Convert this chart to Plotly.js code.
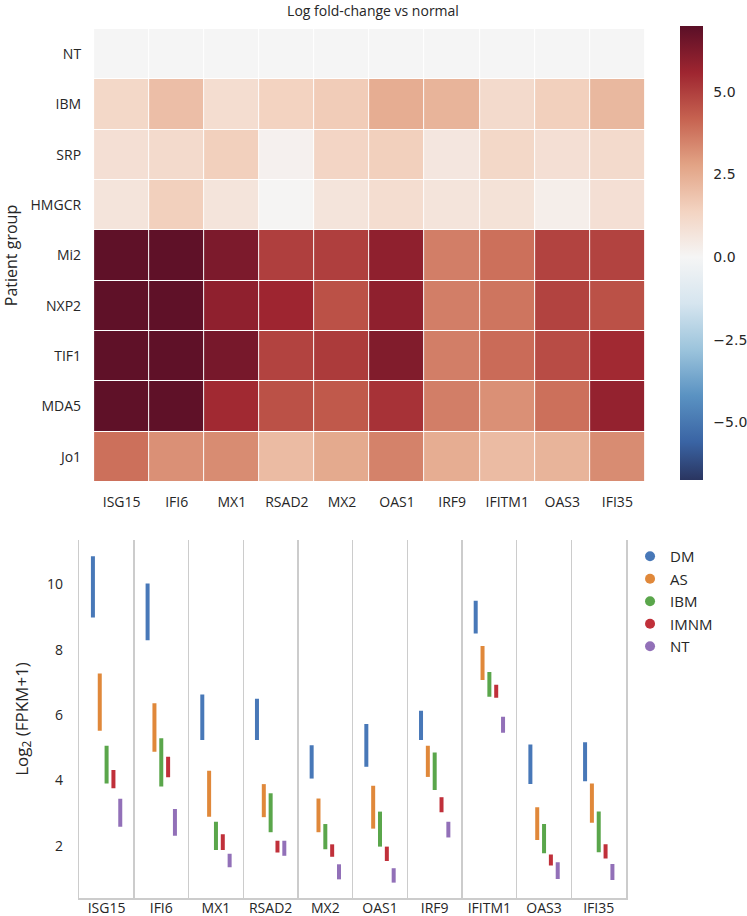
<!DOCTYPE html>
<html>
<head>
<meta charset="utf-8">
<script src="https://cdn.plot.ly/plotly-3.0.1.min.js"></script>
<style>html,body{margin:0;padding:0;background:#fff;}#chart{width:747px;height:916px;}</style>
</head>
<body>
<div id="chart"></div>
<script>
// ---------- Heatmap data ----------
const genes = ["ISG15","IFI6","MX1","RSAD2","MX2","OAS1","IRF9","IFITM1","OAS3","IFI35"];
const patientGroups = ["NT","IBM","SRP","HMGCR","Mi2","NXP2","TIF1","MDA5","Jo1"];
const fc_NT    = [0,0,0,0,0,0,0,0,0,0];
const fc_IBM   = [1.2,2.0,1.0,1.4,1.6,2.5,2.3,1.1,1.5,2.2];
const fc_SRP   = [0.9,1.1,1.5,0.2,1.3,1.5,0.6,1.2,0.9,1.1];
const fc_HMGCR = [0.7,1.5,0.7,0.05,0.7,1.0,0.7,0.8,0.3,0.9];
const fc_Mi2   = [6.9,6.9,6.3,5.0,5.0,5.9,3.6,3.9,4.9,4.9];
const fc_NXP2  = [6.9,6.9,5.9,5.6,4.6,5.9,3.6,3.8,4.9,4.6];
const fc_TIF1  = [6.9,6.9,6.4,4.9,5.1,6.2,3.6,4.0,4.7,5.5];
const fc_MDA5  = [6.9,6.9,5.5,4.6,4.4,5.3,3.6,3.2,3.9,5.8];
const fc_Jo1   = [3.9,3.2,3.3,2.1,2.6,3.5,2.5,2.1,2.3,3.3];
const colorbarTicks = [-5,-2.5,0,2.5,5];
const colorbarTickText = ["\u22125.0","\u22122.5","0.0","2.5","5.0"];

// ---------- Range plot data (Log2 FPKM+1), [low, high] per gene ----------
const groups = ["DM","AS","IBM","IMNM","NT"];
const DM_lo   = [8.98,8.29,5.24,5.24,4.06,4.42,5.24,8.49,3.89,3.98];
const DM_hi   = [10.85,10.02,6.63,6.50,5.08,5.73,6.13,9.49,5.10,5.17];
const AS_lo   = [5.52,4.88,2.89,2.88,2.42,2.53,4.11,7.07,2.18,2.71];
const AS_hi   = [7.27,6.36,4.30,3.89,3.45,3.84,5.06,8.11,3.18,3.91];
const IBM_lo  = [3.91,3.82,1.88,2.42,1.90,1.98,3.71,6.56,1.78,1.81];
const IBM_hi  = [5.06,5.29,2.74,3.61,2.67,3.05,4.86,7.32,2.67,3.05];
const IMNM_lo = [3.76,4.10,1.88,1.80,1.67,1.54,3.03,6.53,1.40,1.62];
const IMNM_hi = [4.32,4.73,2.36,2.16,2.05,1.98,3.49,6.93,1.74,2.05];
const NT_lo   = [2.59,2.31,1.35,1.70,0.98,0.88,2.26,5.46,0.99,0.96];
const NT_hi   = [3.44,3.13,1.76,2.16,1.44,1.32,2.74,5.95,1.50,1.45];
const yTicks = [2,4,6,8,10];

// ---------- Styling ----------
const W = 747, H = 916;
const FONT = "Open Sans, sans-serif";
const TXT = "#262626";
const groupColors = ["#4878b8","#e0883a","#5aa64b","#c0303a","#9270b8"];
// muted diverging scale (blue -> white -> red), stops every 1.4 units from -7 to 7
const divColors = ["#2a3560","#3a64a4","#5a92c2","#9cc4dc","#d6e5ef","#f5f5f5","#f3d3c1","#e2a385","#c66250","#9e2530","#5a0f27"];
const zmin = -6.75, zmax = 7.0;
const colorscale = divColors.map((c, k) => {
  const v = -7 + 1.4 * k;
  let p = (v - zmin) / (zmax - zmin);
  if (p < 0) p = 0;
  return [p, c];
});

const zRows = [fc_NT, fc_IBM, fc_SRP, fc_HMGCR, fc_Mi2, fc_NXP2, fc_TIF1, fc_MDA5, fc_Jo1];

const traces = [];
traces.push({
  type: "heatmap",
  x: genes, y: patientGroups, z: zRows,
  xaxis: "x", yaxis: "y",
  zmin: zmin, zmax: zmax,
  colorscale: colorscale,
  xgap: 1, ygap: 1,
  colorbar: {
    thickness: 23, thicknessmode: "pixels",
    len: 454 / H, lenmode: "fraction",
    x: 686 / W, xanchor: "left", xpad: 0,
    y: 1 - 26 / H, yanchor: "top", ypad: 0,
    outlinewidth: 0,
    tickmode: "array", tickvals: colorbarTicks, ticktext: colorbarTickText,
    ticks: "outside", ticklen: 8, tickcolor: "rgba(0,0,0,0)",
    tickfont: {family: "DejaVu Sans, sans-serif", size: 14, color: TXT}
  },
  showscale: true
});

const los = [DM_lo, AS_lo, IBM_lo, IMNM_lo, NT_lo];
const his = [DM_hi, AS_hi, IBM_hi, IMNM_hi, NT_hi];
const offsets = [-0.25, -0.125, 0, 0.125, 0.25];
groups.forEach((g, gi) => {
  const xs = [], ys = [];
  genes.forEach((gene, i) => {
    xs.push(i + offsets[gi], i + offsets[gi], null);
    ys.push(los[gi][i], his[gi][i], null);
  });
  traces.push({
    type: "scatter", mode: "lines", x: xs, y: ys,
    xaxis: "x2", yaxis: "y2",
    line: {color: groupColors[gi], width: 4},
    showlegend: false, hoverinfo: "skip", name: g
  });
});
groups.forEach((g, gi) => {
  traces.push({
    type: "scatter", mode: "markers", x: [null], y: [null],
    xaxis: "x2", yaxis: "y2",
    marker: {color: groupColors[gi], size: 10},
    name: g, showlegend: true
  });
});

const layout = {
  width: W, height: H,
  margin: {l: 0, r: 0, t: 0, b: 0},
  paper_bgcolor: "#fff", plot_bgcolor: "#fff",
  font: {family: FONT, size: 14, color: TXT},
  showlegend: true,
  title: {
    text: "Log fold-change vs normal",
    x: 373 / W, xanchor: "center",
    y: 1 - 11 / H, yanchor: "middle",
    font: {family: FONT, size: 14, color: TXT}
  },
  xaxis: {
    domain: [95 / W, 651 / W], anchor: "y",
    showgrid: false, zeroline: false, showline: false,
    ticks: "", tickfont: {size: 14, color: TXT},
    ticklabelstandoff: 10
  },
  yaxis: {
    domain: [1 - 482 / H, 1 - 29 / H], anchor: "x",
    autorange: "reversed",
    showgrid: false, zeroline: false, showline: false,
    ticks: "", tickfont: {size: 14, color: TXT},
    ticklabelstandoff: 12,
    title: {text: "Patient group", font: {size: 16, color: TXT}, standoff: 12}
  },
  xaxis2: {
    domain: [80 / W, 632 / W], anchor: "y2",
    range: [-0.5, 9.5],
    tickmode: "array", tickvals: genes.map((g, i) => i), ticktext: genes,
    showgrid: false, zeroline: false,
    showline: true, linecolor: "#cccccc", linewidth: 1.5,
    ticks: "", tickfont: {size: 14, color: TXT},
    ticklabelstandoff: -3,
    minor: {tick0: 0.5, dtick: 1, showgrid: true, gridcolor: "#cccccc", gridwidth: 1.5, ticks: ""}
  },
  yaxis2: {
    domain: [1 - 898 / H, 1 - 540 / H], anchor: "x2",
    range: [0.41, 11.35],
    tickmode: "array", tickvals: yTicks,
    showgrid: false, zeroline: false,
    showline: true, mirror: true, linecolor: "#cccccc", linewidth: 1.5,
    ticks: "", tickfont: {size: 14, color: TXT},
    ticklabelstandoff: 12,
    title: {text: "Log<sub>2</sub> (FPKM+1)", font: {size: 17, color: TXT}, standoff: 14}
  },
  legend: {
    x: 636 / W, xanchor: "left",
    y: 1 - 540 / H, yanchor: "top",
    font: {family: FONT, size: 15, color: TXT},
    bgcolor: "rgba(0,0,0,0)", tracegroupgap: 0, itemwidth: 30
  }
};

Plotly.newPlot("chart", traces, layout, {displayModeBar: false, staticPlot: true});
</script>
</body>
</html>
